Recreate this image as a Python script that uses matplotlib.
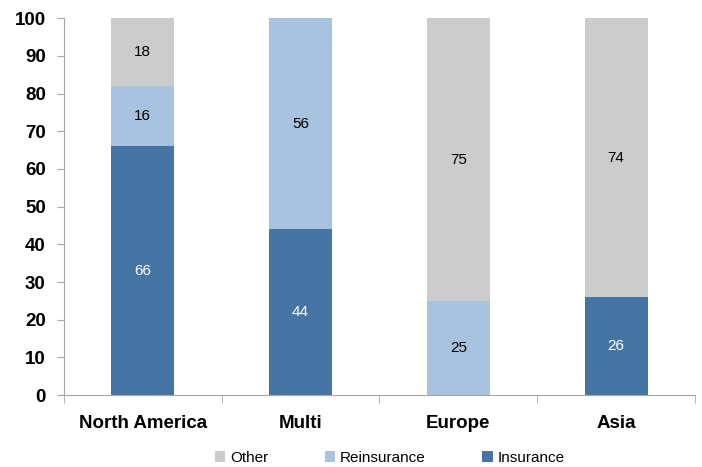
import matplotlib.pyplot as plt
import numpy as np

regions = ["North America", "Multi", "Europe", "Asia"]
insurance = [66, 44, 0, 26]
reinsurance = [16, 56, 25, 0]
other = [18, 0, 75, 74]

c_ins = "#4675a3"
c_rein = "#a8c3df"
c_other = "#cccccc"
axis_col = "#a6a6a6"

plt.rcParams['font.family'] = ['Liberation Sans', 'DejaVu Sans']

fig = plt.figure(figsize=(7.02, 4.67), dpi=100)
ax = fig.add_axes([0.091, 0.154, 0.899, 0.807])

x = np.arange(len(regions))
w = 0.4
ins = np.array(insurance)
rein = np.array(reinsurance)
oth = np.array(other)

b1 = ax.bar(x, ins, w, color=c_ins, label="Insurance")
b2 = ax.bar(x, rein, w, bottom=ins, color=c_rein, label="Reinsurance")
b3 = ax.bar(x, oth, w, bottom=ins + rein, color=c_other, label="Other")

# value labels in the middle of each segment
for vals, bottoms, col in [(ins, np.zeros(4), "white"), (rein, ins, "black"), (oth, ins + rein, "black")]:
    for i in range(len(regions)):
        if vals[i] > 0:
            ax.text(x[i], bottoms[i] + vals[i] / 2, str(vals[i]), ha="center", va="center",
                    fontsize=11, color=col)

ax.set_xlim(-0.5, len(regions) - 0.5)
ax.set_ylim(0, 100)
ax.set_yticks(range(0, 101, 10))
ax.set_xticks(x)
ax.set_xticklabels(regions, fontsize=13.5, fontweight="bold")
ax.set_xticks(np.arange(-0.5, len(regions), 1), minor=True)
ax.tick_params(axis="x", which="major", length=0, pad=14)
ax.tick_params(axis="x", which="minor", length=6, color=axis_col)
ax.tick_params(axis="y", length=5, color=axis_col, labelsize=13.5, pad=8)
for lab in ax.get_yticklabels():
    lab.set_fontweight("bold")

for s in ["top", "right"]:
    ax.spines[s].set_visible(False)
for s in ["left", "bottom"]:
    ax.spines[s].set_color(axis_col)

handles = [b3, b2, b1]
fig.legend(handles, ["Other", "Reinsurance", "Insurance"], loc="lower center",
           bbox_to_anchor=(0.555, -0.025), ncol=3, frameon=False, fontsize=11,
           handlelength=0.7, handleheight=0.7, handletextpad=0.3, columnspacing=3.7)

fig.savefig("out.png", dpi=100)
